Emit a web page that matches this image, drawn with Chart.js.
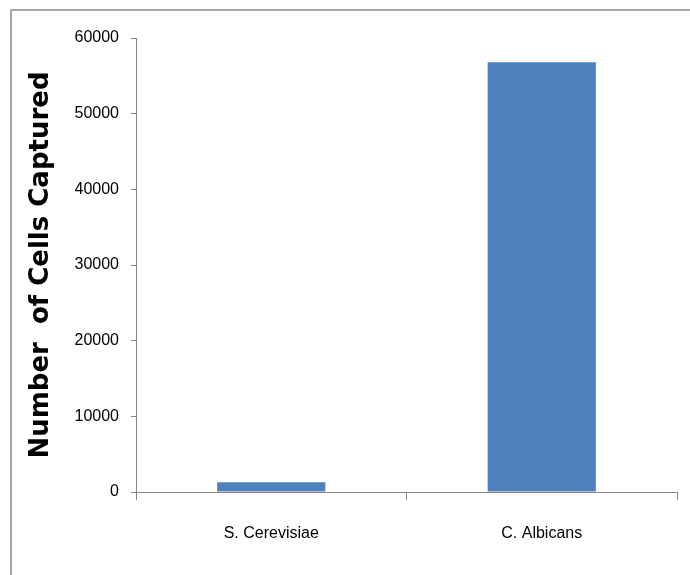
<!DOCTYPE html>
<html lang="en">
<head>
  <meta charset="UTF-8">
  <title>Cells Captured</title>
  <style>
    html, body { margin: 0; padding: 0; background: #fff; }
    #chart-box { position: relative; width: 690px; height: 575px; }
  </style>
</head>
<body>
  <div id="chart-box">
    <canvas id="cells-chart" width="690" height="575"></canvas>
  </div>

  <script src="https://cdn.jsdelivr.net/npm/chart.js"></script>
  <script>
    const categories = ['S. Cerevisiae', 'C. Albicans'];
    const cellsCaptured = [1300, 56800];
    const yTicks = [0, 10000, 20000, 30000, 40000, 50000, 60000];

    // grey frame top + left, like the pasted Excel chart
    const framePlugin = {
      id: 'frame',
      beforeDraw(chart) {
        const ctx = chart.ctx;
        ctx.save();
        ctx.fillStyle = '#fff';
        ctx.fillRect(0, 0, chart.width, chart.height);
        ctx.strokeStyle = '#a6a6a6';
        ctx.lineWidth = 2;
        ctx.beginPath();
        ctx.moveTo(11, chart.height);
        ctx.lineTo(11, 10);
        ctx.lineTo(chart.width, 10);
        ctx.stroke();
        ctx.restore();
      }
    };

    new Chart(document.getElementById('cells-chart'), {
      type: 'bar',
      data: {
        labels: categories,
        datasets: [{
          label: 'Number of Cells Captured',
          data: cellsCaptured,
          backgroundColor: '#4f81bd',
          categoryPercentage: 1,
          barPercentage: 0.4
        }]
      },
      options: {
        responsive: false,
        animation: false,
        layout: { padding: { top: 38, right: 13, left: 0, bottom: 0 } },
        plugins: {
          legend: { display: false },
          tooltip: { enabled: false }
        },
        scales: {
          x: {
            grid: { display: true, offset: true, drawOnChartArea: false, tickLength: 8, tickColor: '#868686' },
            border: { color: '#868686' },
            ticks: { color: '#000', padding: 24, font: { family: 'Liberation Sans', size: 16 } },
            afterFit(scale) { scale.height = 83; }
          },
          y: {
            min: 0,
            max: 60000,
            afterBuildTicks(scale) { scale.ticks = yTicks.map(v => ({ value: v })); },
            grid: { display: true, drawOnChartArea: false, tickLength: 5, tickColor: '#868686' },
            border: { color: '#868686' },
            ticks: {
              color: '#000', padding: 12,
              font: { family: 'Liberation Sans', size: 16 },
              callback: v => String(v)
            },
            title: {
              display: true,
              text: 'Number  of Cells Captured',
              color: '#000',
              padding: { top: 26, bottom: 0 },
              font: { family: 'DejaVu Sans', size: 26, weight: 'bold' }
            },
            afterFit(scale) { scale.width = 136; }
          }
        }
      },
      plugins: [framePlugin]
    });
  </script>
</body>
</html>
